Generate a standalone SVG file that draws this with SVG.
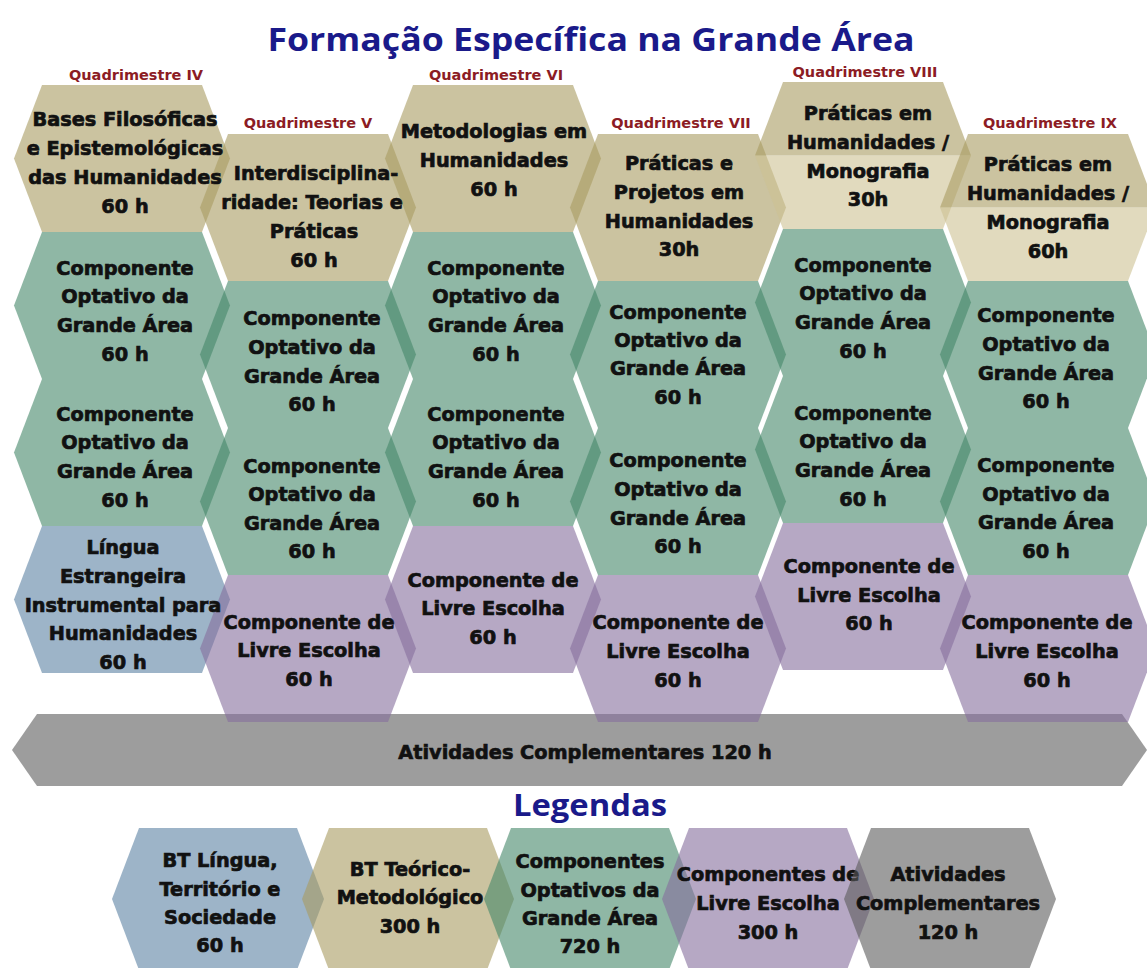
<svg xmlns="http://www.w3.org/2000/svg" xmlns:xlink="http://www.w3.org/1999/xlink" width="1147" height="968" viewBox="0 0 1147 968">
<defs>
<style>
.hx{fill-opacity:0.6}
.tan{fill:#a89b61}
.lit{fill:#cdc193}
.grn{fill:#448769}
.blu{fill:#5c82a3}
.pur{fill:#856e9d}
.gry{fill:#5c5c5c}
.t{font-family:"DejaVu Sans","Liberation Sans",sans-serif;font-weight:bold;font-size:19.3px;fill:#111;text-anchor:middle;stroke:#111;stroke-width:0.7px}
.q{font-family:"DejaVu Sans","Liberation Sans",sans-serif;font-weight:bold;font-size:14.5px;fill:#8c1c24;text-anchor:middle}
.ttl{font-family:"Open Sans","DejaVu Sans",sans-serif;font-weight:700;fill:#1a1a8a;text-anchor:middle}
</style>
<polygon id="hx" points="-108,0 -80,-73.5 80,-73.5 108,0 80,73.5 -80,73.5"/>
<polygon id="htop" points="-108,0 -80,-73.5 80,-73.5 108,0"/>
<polygon id="hbot" points="-108,0 108,0 80,73.5 -80,73.5"/>
<polygon id="lh" points="-106,0 -79,-71 79,-71 106,0 79,71 -79,71"/>
</defs>
<rect width="1147" height="968" fill="#ffffff"/>

<text class="ttl" x="591" y="51" font-size="33" textLength="647" lengthAdjust="spacingAndGlyphs">Formação Específica na Grande Área</text>

<g id="connectors"></g>

<g id="atividades">
<polygon class="hx gry" points="12,750 37,714 1122,714 1147,750 1122,786 37,786"/>
</g>

<g id="q4">
<text class="q" x="136" y="80">Quadrimestre IV</text>
<g id="q4-tan"><use xlink:href="#hx" x="122" y="158.5" class="hx tan"/></g>
<g id="q4-g1"><use xlink:href="#hx" x="122" y="305.5" class="hx grn"/></g>
<g id="q4-g2"><use xlink:href="#hx" x="122" y="452.5" class="hx grn"/></g>
<g id="q4-blu"><use xlink:href="#hx" x="122" y="599.5" class="hx blu"/></g>
</g>

<g id="q5">
<text class="q" x="308" y="128">Quadrimestre V</text>
<g id="q5-tan"><use xlink:href="#hx" x="308" y="207.5" class="hx tan"/></g>
<g id="q5-g1"><use xlink:href="#hx" x="308" y="354.5" class="hx grn"/></g>
<g id="q5-g2"><use xlink:href="#hx" x="308" y="501.5" class="hx grn"/></g>
<g id="q5-pur"><use xlink:href="#hx" x="308" y="648.5" class="hx pur"/></g>
</g>

<g id="q6">
<text class="q" x="496" y="80">Quadrimestre VI</text>
<g id="q6-tan"><use xlink:href="#hx" x="493" y="158.5" class="hx tan"/></g>
<g id="q6-g1"><use xlink:href="#hx" x="493" y="305.5" class="hx grn"/></g>
<g id="q6-g2"><use xlink:href="#hx" x="493" y="452.5" class="hx grn"/></g>
<g id="q6-pur"><use xlink:href="#hx" x="493" y="599.5" class="hx pur"/></g>
</g>

<g id="q7">
<text class="q" x="681" y="128">Quadrimestre VII</text>
<g id="q7-tan"><use xlink:href="#hx" x="678" y="207.5" class="hx tan"/></g>
<g id="q7-g1"><use xlink:href="#hx" x="678" y="354.5" class="hx grn"/></g>
<g id="q7-g2"><use xlink:href="#hx" x="678" y="501.5" class="hx grn"/></g>
<g id="q7-pur"><use xlink:href="#hx" x="678" y="648.5" class="hx pur"/></g>
</g>

<g id="q8">
<text class="q" x="865" y="77">Quadrimestre VIII</text>
<g id="q8-tan"><use xlink:href="#htop" x="863" y="155.5" class="hx tan"/><use xlink:href="#hbot" x="863" y="155.5" class="hx lit"/></g>
<g id="q8-g1"><use xlink:href="#hx" x="863" y="302.5" class="hx grn"/></g>
<g id="q8-g2"><use xlink:href="#hx" x="863" y="449.5" class="hx grn"/></g>
<g id="q8-pur"><use xlink:href="#hx" x="863" y="596.5" class="hx pur"/></g>
</g>

<g id="q9">
<text class="q" x="1050" y="128">Quadrimestre IX</text>
<g id="q9-tan"><use xlink:href="#htop" x="1048" y="207.5" class="hx tan"/><use xlink:href="#hbot" x="1048" y="207.5" class="hx lit"/></g>
<g id="q9-g1"><use xlink:href="#hx" x="1048" y="354.5" class="hx grn"/></g>
<g id="q9-g2"><use xlink:href="#hx" x="1048" y="501.5" class="hx grn"/></g>
<g id="q9-pur"><use xlink:href="#hx" x="1048" y="648.5" class="hx pur"/></g>
</g>

<g id="labels">
<text class="t"><tspan x="125" y="126">Bases Filosóficas</tspan><tspan x="125" y="155">e Epistemológicas</tspan><tspan x="125" y="184">das Humanidades</tspan><tspan x="125" y="213">60 h</tspan></text>
<text class="t"><tspan x="125" y="275">Componente</tspan><tspan x="125" y="303">Optativo da</tspan><tspan x="125" y="332">Grande Área</tspan><tspan x="125" y="361">60 h</tspan></text>
<text class="t"><tspan x="125" y="421">Componente</tspan><tspan x="125" y="449">Optativo da</tspan><tspan x="125" y="478">Grande Área</tspan><tspan x="125" y="507">60 h</tspan></text>
<text class="t"><tspan x="123" y="554">Língua</tspan><tspan x="123" y="583">Estrangeira</tspan><tspan x="123" y="612">Instrumental para</tspan><tspan x="123" y="640">Humanidades</tspan><tspan x="123" y="669">60 h</tspan></text>

<text class="t"><tspan x="316" y="180">Interdisciplina-</tspan><tspan x="312" y="209">ridade: Teorias e</tspan><tspan x="314" y="238">Práticas</tspan><tspan x="314" y="267">60 h</tspan></text>
<text class="t"><tspan x="312" y="325">Componente</tspan><tspan x="312" y="354">Optativo da</tspan><tspan x="312" y="383">Grande Área</tspan><tspan x="312" y="411">60 h</tspan></text>
<text class="t"><tspan x="312" y="473">Componente</tspan><tspan x="312" y="501">Optativo da</tspan><tspan x="312" y="530">Grande Área</tspan><tspan x="312" y="558">60 h</tspan></text>
<text class="t"><tspan x="309" y="629">Componente de</tspan><tspan x="309" y="657">Livre Escolha</tspan><tspan x="309" y="686">60 h</tspan></text>

<text class="t"><tspan x="494" y="138">Metodologias em</tspan><tspan x="494" y="167">Humanidades</tspan><tspan x="494" y="196">60 h</tspan></text>
<text class="t"><tspan x="496" y="275">Componente</tspan><tspan x="496" y="303">Optativo da</tspan><tspan x="496" y="332">Grande Área</tspan><tspan x="496" y="361">60 h</tspan></text>
<text class="t"><tspan x="496" y="421">Componente</tspan><tspan x="496" y="449">Optativo da</tspan><tspan x="496" y="478">Grande Área</tspan><tspan x="496" y="507">60 h</tspan></text>
<text class="t"><tspan x="493" y="587">Componente de</tspan><tspan x="493" y="615">Livre Escolha</tspan><tspan x="493" y="644">60 h</tspan></text>

<text class="t"><tspan x="679" y="170">Práticas e</tspan><tspan x="679" y="199">Projetos em</tspan><tspan x="679" y="228">Humanidades</tspan><tspan x="679" y="256">30h</tspan></text>
<text class="t"><tspan x="678" y="319">Componente</tspan><tspan x="678" y="347">Optativo da</tspan><tspan x="678" y="375">Grande Área</tspan><tspan x="678" y="404">60 h</tspan></text>
<text class="t"><tspan x="678" y="467">Componente</tspan><tspan x="678" y="496">Optativo da</tspan><tspan x="678" y="525">Grande Área</tspan><tspan x="678" y="553">60 h</tspan></text>
<text class="t"><tspan x="678" y="629">Componente de</tspan><tspan x="678" y="658">Livre Escolha</tspan><tspan x="678" y="687">60 h</tspan></text>

<text class="t"><tspan x="868" y="120">Práticas em</tspan><tspan x="868" y="149">Humanidades /</tspan><tspan x="868" y="178">Monografia</tspan><tspan x="868" y="206">30h</tspan></text>
<text class="t"><tspan x="863" y="272">Componente</tspan><tspan x="863" y="300">Optativo da</tspan><tspan x="863" y="329">Grande Área</tspan><tspan x="863" y="358">60 h</tspan></text>
<text class="t"><tspan x="863" y="420">Componente</tspan><tspan x="863" y="448">Optativo da</tspan><tspan x="863" y="477">Grande Área</tspan><tspan x="863" y="506">60 h</tspan></text>
<text class="t"><tspan x="869" y="573">Componente de</tspan><tspan x="869" y="602">Livre Escolha</tspan><tspan x="869" y="630">60 h</tspan></text>

<text class="t"><tspan x="1048" y="171">Práticas em</tspan><tspan x="1048" y="200">Humanidades /</tspan><tspan x="1048" y="229">Monografia</tspan><tspan x="1048" y="258">60h</tspan></text>
<text class="t"><tspan x="1046" y="322">Componente</tspan><tspan x="1046" y="351">Optativo da</tspan><tspan x="1046" y="380">Grande Área</tspan><tspan x="1046" y="408">60 h</tspan></text>
<text class="t"><tspan x="1046" y="472">Componente</tspan><tspan x="1046" y="501">Optativo da</tspan><tspan x="1046" y="529">Grande Área</tspan><tspan x="1046" y="558">60 h</tspan></text>
<text class="t"><tspan x="1047" y="629">Componente de</tspan><tspan x="1047" y="658">Livre Escolha</tspan><tspan x="1047" y="687">60 h</tspan></text>

<text class="t" x="585" y="759">Atividades Complementares 120 h</text>
</g>

<text class="ttl" x="590" y="816" font-size="31" textLength="154" lengthAdjust="spacingAndGlyphs">Legendas</text>

<g id="leg-blu"><use xlink:href="#lh" x="218" y="899" class="hx blu"/>
<text class="t"><tspan x="220" y="867">BT Língua,</tspan><tspan x="220" y="896">Território e</tspan><tspan x="220" y="924">Sociedade</tspan><tspan x="220" y="952">60 h</tspan></text></g>
<g id="leg-tan"><use xlink:href="#lh" x="408" y="899" class="hx tan"/>
<text class="t"><tspan x="410" y="876">BT Teórico-</tspan><tspan x="410" y="904">Metodológico</tspan><tspan x="410" y="933">300 h</tspan></text></g>
<g id="leg-grn"><use xlink:href="#lh" x="590" y="899" class="hx grn"/>
<text class="t"><tspan x="590" y="868">Componentes</tspan><tspan x="590" y="897">Optativos da</tspan><tspan x="590" y="925">Grande Área</tspan><tspan x="590" y="953">720 h</tspan></text></g>
<g id="leg-pur"><use xlink:href="#lh" x="768" y="899" class="hx pur"/>
<text class="t"><tspan x="768" y="881">Componentes de</tspan><tspan x="768" y="910">Livre Escolha</tspan><tspan x="768" y="939">300 h</tspan></text></g>
<g id="leg-gry"><use xlink:href="#lh" x="950" y="899" class="hx gry"/>
<text class="t"><tspan x="948" y="881">Atividades</tspan><tspan x="948" y="910">Complementares</tspan><tspan x="948" y="939">120 h</tspan></text></g>
</svg>
